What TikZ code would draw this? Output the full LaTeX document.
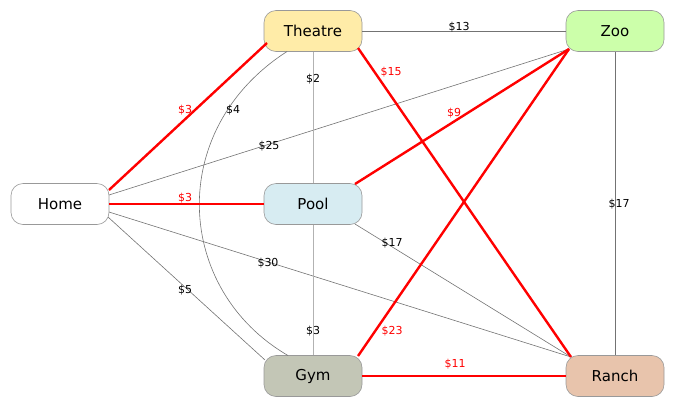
\documentclass[tikz,border=0pt]{standalone}
\usepackage{fontspec}
\setmainfont{DejaVu Sans}
\usetikzlibrary{calc}
\begin{document}
\begin{tikzpicture}[x=1pt,y=-1pt,
  place/.style={draw=black!40, line width=0.6pt, rounded corners=12pt, minimum width=98pt, minimum height=41pt, inner sep=0pt, font=\fontsize{15}{16}\selectfont},
  thin edge/.style={draw=black!55, line width=0.6pt},
  light edge/.style={draw=black!30, line width=1pt},
  best/.style={draw=red, line width=2.4pt},
  lbl/.style={font=\fontsize{11}{12}\selectfont, inner sep=0pt, text=black},
  rlbl/.style={lbl, text=red}]
\useasboundingbox (0,0) rectangle (676,408);
\node[place, fill=white] (home) at (60,204) {Home};
\node[place, fill={rgb,255:red,255;green,236;blue,168}] (theatre) at (313,31) {Theatre};
\node[place, fill={rgb,255:red,204;green,255;blue,170}] (zoo) at (615,31) {Zoo};
\node[place, fill={rgb,255:red,215;green,236;blue,242}] (pool) at (313,204) {Pool};
\node[place, fill={rgb,255:red,195;green,198;blue,182}] (gym) at (313,376) {Gym};
\node[place, fill={rgb,255:red,232;green,196;blue,172}] (ranch) at (615,376) {Ranch};
% thin edges
\draw[thin edge] ($(home.center)+(49,-9)$) -- ($(zoo.center)+(-46,18)$);
\draw[thin edge] ($(home.center)+(49,8)$) -- ($(ranch.center)+(-44,-19)$);
\draw[thin edge] ($(home.center)+(48,13)$) -- ($(gym.center)+(-48,-16)$);
\draw[thin edge] ($(theatre.center)+(-26,20.5)$) .. controls (165,130) and (175,290) .. ($(gym.center)+(-25,-20.5)$);
\draw[light edge] (theatre.south) -- (pool.north);
\draw[thin edge] (theatre.east) -- (zoo.west);
\draw[light edge] (pool.south) -- (gym.north);
\draw[thin edge] ($(pool.center)+(42,20)$) -- ($(ranch.center)+(-44,-19)$);
\draw[thin edge] (zoo.south) -- (ranch.north);
% best edges
\draw[best] ($(home.center)+(49,-14)$) -- ($(theatre.center)+(-46,12)$);
\draw[best] (home.east) -- (pool.west);
\draw[best] ($(theatre.center)+(45,17)$) -- ($(ranch.center)+(-44,-19)$);
\draw[best] ($(pool.center)+(42,-20)$) -- ($(zoo.center)+(-46,18)$);
\draw[best] ($(zoo.center)+(-46,18)$) -- ($(gym.center)+(45,-20)$);
\draw[best] (gym.east) -- (ranch.west);
% labels
\node[rlbl] (l1) at (185,110) {\$3};
\node[lbl] (l2) at (233,110) {\$4};
\node[lbl] (l3) at (313,79) {\$2};
\node[lbl] (l4) at (269,146) {\$25};
\node[rlbl] (l5) at (185,198) {\$3};
\node[lbl] (l6) at (459,27) {\$13};
\node[rlbl] (l7) at (391,72) {\$15};
\node[rlbl] (l8) at (454,113) {\$9};
\node[lbl] (l9) at (619,204) {\$17};
\node[lbl] (l10) at (392,243) {\$17};
\node[lbl] (l11) at (268,263) {\$30};
\node[lbl] (l12) at (185,290) {\$5};
\node[lbl] (l13) at (313,331) {\$3};
\node[rlbl] (l14) at (392,331) {\$23};
\node[rlbl] (l15) at (455,364) {\$11};
\end{tikzpicture}
\end{document}
